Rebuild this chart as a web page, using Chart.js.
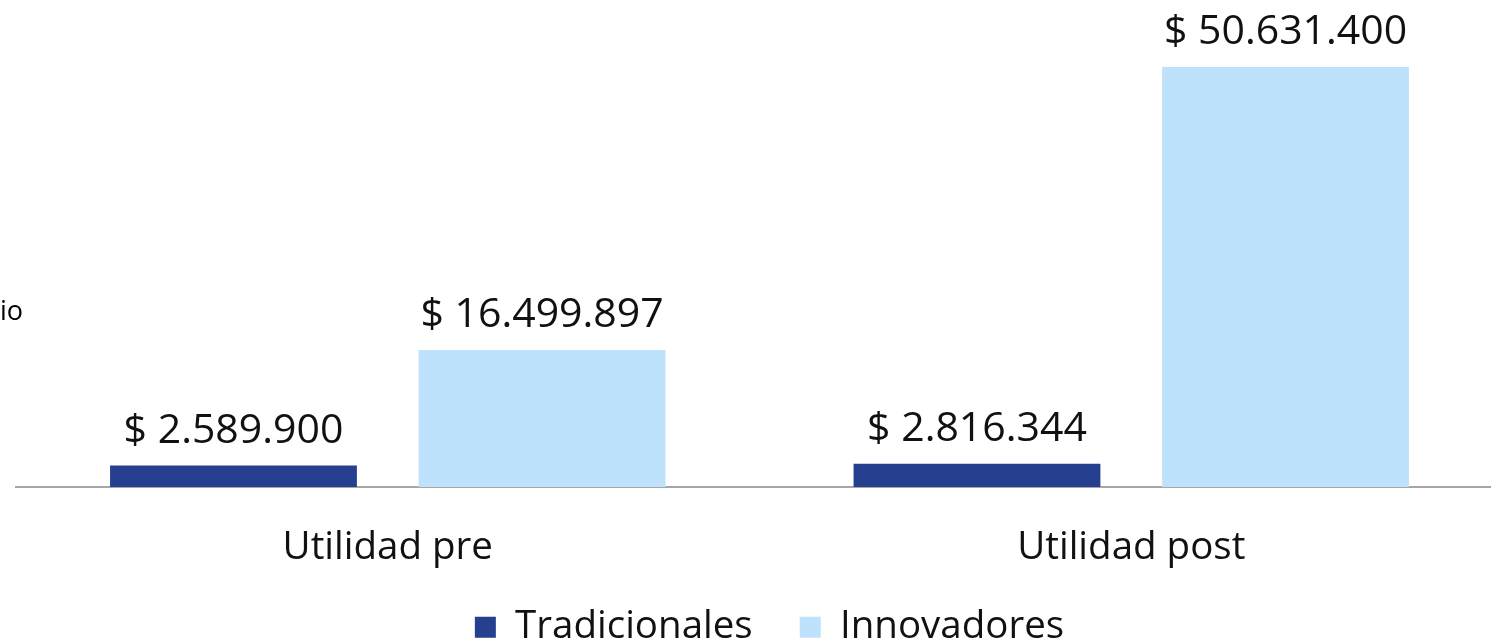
<!DOCTYPE html>
<html>
<head>
<meta charset="utf-8">
<script src="https://cdn.jsdelivr.net/npm/chart.js@4.4.0/dist/chart.umd.min.js"></script>
<style>
  html, body { margin: 0; padding: 0; background: #ffffff; overflow: hidden; }
  #wrap { position: relative; width: 1503px; height: 643px; }
  #side { position: absolute; left: 0; top: 291px; font: 27px "Open Sans", sans-serif; color: #000; }
</style>
</head>
<body>
<div id="wrap">
  <canvas id="c"></canvas>
  <div id="side">io</div>
</div>
<script>
const categories = ["Utilidad pre", "Utilidad post"];
const seriesNames = ["Tradicionales", "Innovadores"];
const tradicionales = [2589900, 2816344];
const innovadores = [16499897, 50631400];
const colors = ["#263F8E", "#BEE2FB"];

function fmt(v) {
  return "$ " + String(Math.round(v)).replace(/\B(?=(\d{3})+(?!\d))/g, ".");
}

const valueLabels = {
  id: "valueLabels",
  afterDatasetsDraw(chart) {
    const ctx = chart.ctx;
    ctx.save();
    ctx.font = '41px "Open Sans", sans-serif';
    ctx.fillStyle = "#111111";
    ctx.textAlign = "center";
    ctx.textBaseline = "alphabetic";
    chart.data.datasets.forEach((ds, di) => {
      const meta = chart.getDatasetMeta(di);
      meta.data.forEach((bar, i) => {
        ctx.fillText(fmt(ds.data[i]), bar.x, bar.y - 23);
      });
    });
    ctx.restore();
  }
};

const legendPlace = {
  id: "legendPlace",
  afterLayout(chart) {
    const lg = chart.legend;
    if (lg) {
      lg.left += 10;
      lg.right += 10;
      lg.top = 561;
    }
  }
};

new Chart(document.getElementById("c"), {
  type: "bar",
  data: {
    labels: categories,
    datasets: [
      { label: seriesNames[0], data: tradicionales, backgroundColor: colors[0] },
      { label: seriesNames[1], data: innovadores, backgroundColor: colors[1] }
    ]
  },
  options: {
    responsive: true,
    maintainAspectRatio: false,
    animation: false,
    layout: { padding: { left: 16, right: 0, top: 0, bottom: 0 } },
    datasets: { bar: { categoryPercentage: 0.83, barPercentage: 0.8 } },
    plugins: {
      legend: {
        position: "bottom",
        maxHeight: 48,
        labels: {
          font: { family: "Open Sans", size: 38.5 },
          color: "#111111",
          boxWidth: 21,
          boxHeight: 21,
          padding: 47
        }
      },
      tooltip: { enabled: false }
    },
    scales: {
      x: {
        grid: { display: false, drawTicks: false },
        border: { display: true, color: "#A6A6A6", width: 2 },
        ticks: { font: { family: "Open Sans", size: 38.5 }, color: "#111111", padding: 38 },
        afterFit(scale) { scale.height = 108; }
      },
      y: {
        display: false,
        min: 0,
        max: 58700000
      }
    }
  },
  plugins: [valueLabels, legendPlace]
});
</script>
</body>
</html>
